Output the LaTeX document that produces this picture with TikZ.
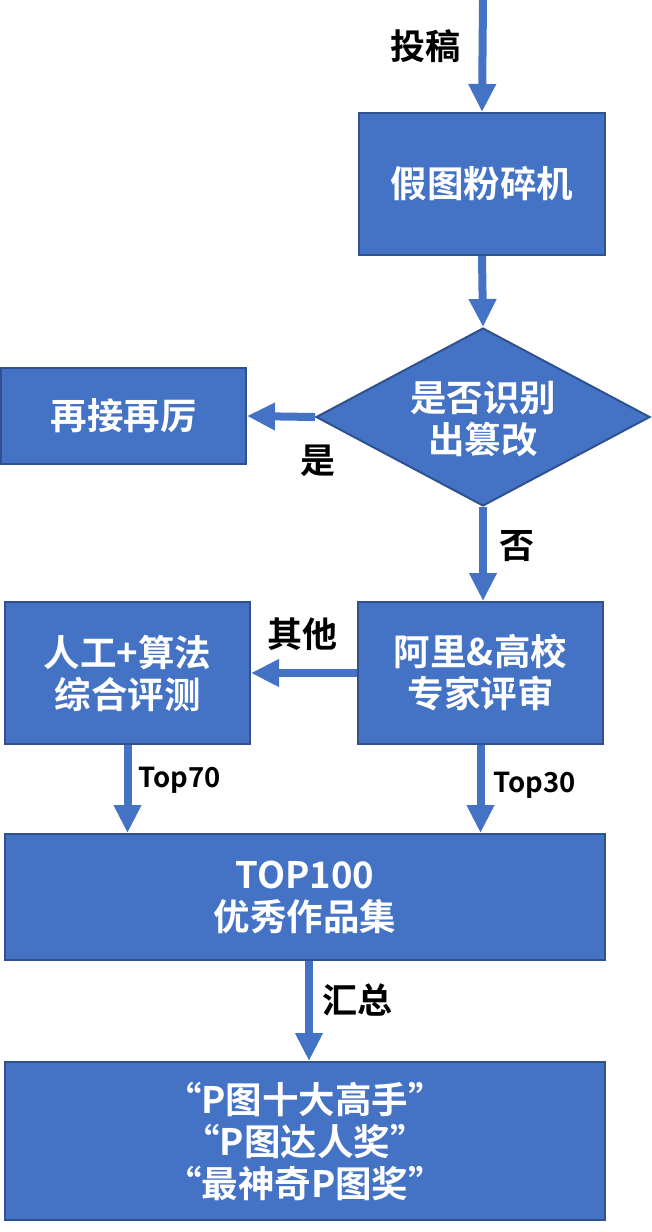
\documentclass[tikz,border=0pt]{standalone}
\usepackage{fontspec}
\setmainfont{Noto Sans CJK SC}[BoldFont={Noto Sans CJK SC Bold}]
\usetikzlibrary{arrows.meta,shapes.geometric}
\definecolor{boxfill}{HTML}{4472C4}
\definecolor{boxline}{HTML}{2F528F}
\tikzset{
  boxfont/.style={font=\fontsize{36.5}{42}\selectfont\bfseries},
  box/.style={draw=boxline,line width=2pt,fill=boxfill,text=white,boxfont,align=center,inner sep=0pt},
  flow/.style={draw=boxfill,line width=8pt,-{Triangle[width=26pt,length=28pt]}},
  lab/.style={font=\fontsize{35}{40}\selectfont\bfseries,text=black,inner sep=0pt},
  small/.style={font=\fontsize{27.5}{32}\selectfont\bfseries,text=black,inner sep=0pt}
}
\begin{document}
\begin{tikzpicture}[x=1pt,y=-1pt]
\useasboundingbox (0,0) rectangle (652,1232);
\node[box,minimum width=246pt,minimum height=142pt] (shred) at (482,184) {假图粉碎机};
\node[box,diamond,minimum width=334pt,minimum height=178pt,aspect=1.876] (dec) at (483,417) {};
\node[text=white,boxfont,align=center] (dectext) at (483,419) {是否识别\\出篡改};
\node[box,minimum width=245pt,minimum height=96pt] (keep) at (123.5,416) {再接再厉};
\node[box,minimum width=245pt,minimum height=142pt] (expert) at (480.5,673) {阿里\&高校\\专家评审};
\node[box,minimum width=245pt,minimum height=142pt] (algo) at (127.5,673) {人工+算法\\综合评测};
\node[box,minimum width=600pt,minimum height=126pt] (top) at (305,897) {TOP100\\优秀作品集};
\node[box,minimum width=600pt,minimum height=158pt] (final) at (305,1141) {“P图十大高手”\\“P图达人奖”\\“最神奇P图奖”};
\coordinate (start) at (483,0);
\draw[flow] (start) -- (shred.north);
\draw[flow] (shred.south) -- (dec.north);
\draw[flow] (dec.west) -- (keep.east);
\draw[flow] (dec.south) -- (expert.north -| dec.south);
\draw[flow] (expert.west) -- (algo.east);
\draw[flow] (algo.south) -- (algo.south |- top.north);
\draw[flow] (expert.south) -- (expert.south |- top.north);
\draw[flow] (top.south -| 309,0) -- (final.north -| 309,0);
\node[lab] (l1) at (425,46) {投稿};
\node[lab] (l2) at (318,461) {是};
\node[lab] (l3) at (517,546) {否};
\node[lab] (l4) at (302,634) {其他};
\node[small] (l5) at (180,780) {Top70};
\node[small] (l6) at (535,785) {Top30};
\node[lab] (l7) at (357,1000) {汇总};
\end{tikzpicture}
\end{document}
